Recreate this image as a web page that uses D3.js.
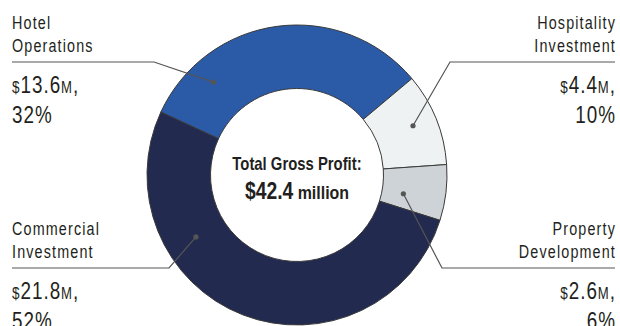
<!DOCTYPE html>
<html>
<head>
<meta charset="utf-8">
<script src="https://cdn.jsdelivr.net/npm/d3@7"></script>
<style>
  html, body { margin: 0; padding: 0; background: #fff; }
  svg { display: block; }
  .lbl { font-family: "Liberation Sans", Arial, sans-serif; fill: #231f20; }
</style>
</head>
<body>
<svg id="chart" width="620" height="326"></svg>
<script>
// Gross profit by business segment
const segments = ["Hotel Operations", "Hospitality Investment", "Property Development", "Commercial Investment"];
const labelLines = [["Hotel", "Operations"], ["Hospitality", "Investment"], ["Property", "Development"], ["Commercial", "Investment"]];
const profitM = [13.6, 4.4, 2.6, 21.8];
const sharePct = [32, 10, 6, 52];
const totalM = 42.4;
const colors = ["#2b5aa7", "#eef2f3", "#cdd3d7", "#222a4f"];

// Callout placement for each segment (side, leader baseline, elbow, anchor dot)
const callouts = [
  { side: "left",  lineY: 62,  elbowX: 154, dotAngle: -42,  dotR: 125 },
  { side: "right", lineY: 62,  elbowX: 450, dotAngle: 67,   dotR: 126 },
  { side: "right", lineY: 268, elbowX: 442, dotAngle: 100,  dotR: 108 },
  { side: "left",  lineY: 268, elbowX: 169, dotAngle: 238.5, dotR: 118.5 }
];

const W = 620, H = 326;
const cx = 297, cy = 175, outerR = 150, innerR = 86.5;
const leftX = 12, rightX = 615;
const narrow = 0.82;   // horizontal compression for the condensed type

const svg = d3.select("#chart");
const g = svg.append("g").attr("transform", `translate(${cx},${cy})`);

const rad = d => d * Math.PI / 180;
const startDeg = 50 - sharePct[0] * 3.6;

const pie = d3.pie().sort(null).value(d => d.share)
  .startAngle(rad(startDeg)).endAngle(rad(startDeg + 360));
const data = segments.map((s, i) => ({ name: s, share: sharePct[i], value: profitM[i], i }));
const arc = d3.arc().innerRadius(innerR).outerRadius(outerR);

g.selectAll("path.slice")
  .data(pie(data))
  .join("path")
  .attr("class", "slice")
  .attr("d", arc)
  .attr("fill", d => colors[d.data.i])
  .attr("stroke", "#3a3a3a")
  .attr("stroke-width", 1);

// condensed text helper: a text element squeezed horizontally around its anchor
function ctext(x, y, anchor, sx) {
  return svg.append("g")
    .attr("transform", `translate(${x},${y}) scale(${sx},1)`)
    .append("text").attr("class", "lbl")
    .attr("text-anchor", anchor);
}

// leader lines and anchor dots
const polar = (a, r) => [cx + r * Math.sin(rad(a)), cy - r * Math.cos(rad(a))];
callouts.forEach((c, i) => {
  const [dx, dy] = polar(c.dotAngle, c.dotR);
  const endX = c.side === "left" ? leftX : rightX;
  svg.append("path")
    .attr("d", d3.line()([[endX, c.lineY], [c.elbowX, c.lineY], [dx, dy]]))
    .attr("fill", "none")
    .attr("stroke", "#555")
    .attr("stroke-width", 1.2);
  svg.append("circle").attr("cx", dx).attr("cy", dy).attr("r", 2.6).attr("fill", "#555");

  const anchor = c.side === "left" ? "start" : "end";
  const tx = c.side === "left" ? leftX : rightX + 1;
  labelLines[i].forEach((ln, k) => {
    ctext(tx, c.lineY - 33 + k * 22.5, anchor, narrow)
      .style("font-size", "17.5px").style("letter-spacing", "1.4px")
      .text(ln);
  });
  const v = ctext(tx, c.lineY + 30.5, anchor, narrow)
    .style("letter-spacing", "1.2px");
  v.append("tspan").style("font-size", "16.5px").text("$");
  v.append("tspan").style("font-size", "23px").text(profitM[i].toFixed(1));
  v.append("tspan").style("font-size", "16px").text("M");
  v.append("tspan").style("font-size", "23px").text(",");
  ctext(tx, c.lineY + 60.5, anchor, narrow)
    .style("font-size", "23px").style("letter-spacing", "1.2px")
    .text(sharePct[i] + "%");
});

// centre total
ctext(cx, 170, "middle", 0.84)
  .style("font-size", "17.7px").style("font-weight", "bold")
  .text("Total Gross Profit:");
const t2 = ctext(cx, 199, "middle", 0.84).style("font-weight", "bold");
t2.append("tspan").style("font-size", "23px").text("$" + totalM.toFixed(1));
t2.append("tspan").style("font-size", "19px").text(" million");
</script>
</body>
</html>
